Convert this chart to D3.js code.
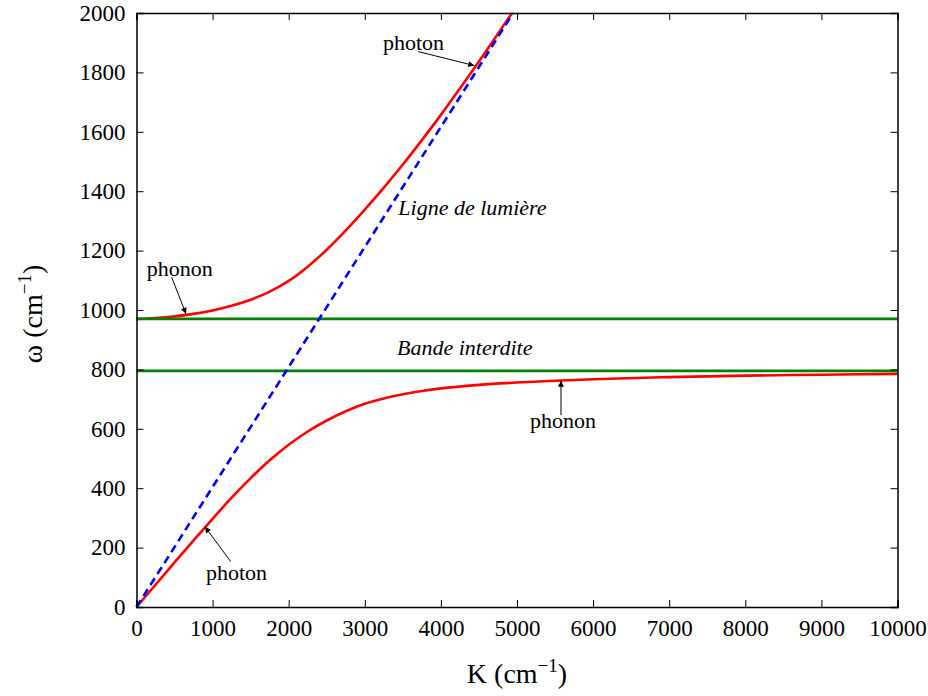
<!DOCTYPE html>
<html>
<head>
<meta charset="utf-8">
<script src="https://cdn.jsdelivr.net/npm/d3@7"></script>
<style>
body { margin: 0; background: white; }
svg text { font-family: "Liberation Serif", "DejaVu Serif", serif !important; }
</style>
</head>
<body>
<div id="vis"></div>
<script>
// Data (K in cm-1, omega in cm-1)
var upperK = [0, 250, 500, 750, 1000, 1250, 1500, 1750, 2000, 2250, 2500, 2750, 3000, 3250, 3500, 3750, 4000, 4250, 4500, 4750, 4935];
var upperW = [970, 973, 978.5, 987, 998.5, 1014, 1034.5, 1062, 1098, 1146, 1203, 1268, 1338, 1412, 1490, 1572, 1657, 1746, 1837, 1930, 2000];

var lowerK = [0, 250, 500, 750, 1000, 1250, 1500, 1750, 2000, 2250, 2500, 2750, 3000, 3250, 3500, 3750, 4000, 4500, 5000, 5500, 6000, 7000, 8000, 9000, 10000];
var lowerW = [0, 75, 150, 224, 297, 368, 434, 494, 546.5, 591, 628, 659, 684, 702, 716, 727, 736, 748, 756, 762, 767, 774, 779, 782, 785];

var lightK = [0, 4950];
var lightW = [0, 2000];

var omegaL = 970;   // top of the gap
var omegaT = 795;   // bottom of the gap

var xTicks = [0, 1000, 2000, 3000, 4000, 5000, 6000, 7000, 8000, 9000, 10000];
var yTicks = [0, 200, 400, 600, 800, 1000, 1200, 1400, 1600, 1800, 2000];

// labels: text anchor and arrow (from -> tip), in data units
var labels = [
    {text: "photon", italic: false, k: 3239, w: 1875, arrow: [[3703, 1870], [4439, 1823]]},
    {text: "phonon", italic: false, k: 134, w: 1114, arrow: [[463, 1110], [650, 987]]},
    {text: "Ligne de lumière", italic: true, k: 3440, w: 1320, arrow: null},
    {text: "Bande interdite", italic: true, k: 3423, w: 848, arrow: null},
    {text: "phonon", italic: false, k: 5171, w: 602, arrow: [[5578, 646], [5578, 762]]},
    {text: "photon", italic: false, k: 913, w: 91, arrow: [[1238, 153], [900, 270]]}
];

var totalWidth = 928, totalHeight = 696;
var margin = {top: 13, left: 136.5, right: 30.5, bottom: 89};
var width = totalWidth - margin.left - margin.right;
var height = totalHeight - margin.top - margin.bottom;

var x = d3.scaleLinear().domain([0, 10000]).range([0, width]);
var y = d3.scaleLinear().domain([0, 2000]).range([height, 0]);

var SVG = d3.select("#vis").append("svg")
    .attr("width", totalWidth)
    .attr("height", totalHeight);

var defs = SVG.append("defs");
defs.append("marker")
    .attr("id", "head")
    .attr("viewBox", "0 0 10 10")
    .attr("refX", 10)
    .attr("refY", 5)
    .attr("markerWidth", 9)
    .attr("markerHeight", 6)
    .attr("markerUnits", "userSpaceOnUse")
    .attr("orient", "auto")
    .append("path")
    .attr("d", "M0,0 L10,5 L0,10 Z")
    .attr("fill", "black");

var svg = SVG.append("g")
    .attr("transform", "translate(" + margin.left + "," + margin.top + ")");

var line = d3.line()
    .curve(d3.curveMonotoneX)
    .x(function(d) { return x(d[0]); })
    .y(function(d) { return y(d[1]); });

// red branches
svg.append("path")
    .datum(d3.zip(lowerK, lowerW))
    .attr("d", line)
    .attr("fill", "none")
    .attr("stroke", "#ff0000")
    .attr("stroke-width", 2.6);

svg.append("path")
    .datum(d3.zip(upperK, upperW))
    .attr("d", line)
    .attr("fill", "none")
    .attr("stroke", "#ff0000")
    .attr("stroke-width", 2.6);

// green gap lines
[omegaL, omegaT].forEach(function(w) {
    svg.append("line")
        .attr("x1", x(0))
        .attr("x2", x(10000))
        .attr("y1", y(w))
        .attr("y2", y(w))
        .attr("stroke", "#008000")
        .attr("stroke-width", 2.6);
});

// light line
svg.append("path")
    .datum(d3.zip(lightK, lightW))
    .attr("d", d3.line().x(function(d) { return x(d[0]); }).y(function(d) { return y(d[1]); }))
    .attr("fill", "none")
    .attr("stroke", "#0000ff")
    .attr("stroke-width", 2.6)
    .attr("stroke-dasharray", "8,5");

// axes, MATLAB style box with inward ticks
var tickLen = 7;
svg.append("g")
    .attr("transform", "translate(0," + height + ")")
    .call(d3.axisBottom(x).tickValues(xTicks).tickSize(-tickLen).tickPadding(tickLen + 6).tickFormat(d3.format("d")));
svg.append("g")
    .call(d3.axisTop(x).tickValues(xTicks).tickSize(-tickLen).tickFormat(""));
svg.append("g")
    .call(d3.axisLeft(y).tickValues(yTicks).tickSize(-tickLen).tickPadding(tickLen + 4).tickFormat(d3.format("d")));
svg.append("g")
    .attr("transform", "translate(" + width + ",0)")
    .call(d3.axisRight(y).tickValues(yTicks).tickSize(-tickLen).tickFormat(""));

svg.selectAll(".domain").attr("stroke", "black").attr("stroke-width", 1.5);
svg.selectAll(".tick line").attr("stroke", "black").attr("stroke-width", 1);
svg.selectAll(".tick text")
    .attr("fill", "black")
    .attr("font-size", 23);

// annotations
for (var i in labels) {
    var l = labels[i];
    svg.append("text")
        .attr("x", x(l.k))
        .attr("y", y(l.w))
        .attr("font-size", 22)
        .attr("font-style", l.italic ? "italic" : "normal")
        .text(l.text);
    if (l.arrow) {
        svg.append("line")
            .attr("x1", x(l.arrow[0][0]))
            .attr("y1", y(l.arrow[0][1]))
            .attr("x2", x(l.arrow[1][0]))
            .attr("y2", y(l.arrow[1][1]))
            .attr("stroke", "black")
            .attr("stroke-width", 1)
            .attr("marker-end", "url(#head)");
    }
}

// axis titles
var xt = SVG.append("text")
    .attr("x", margin.left + width / 2)
    .attr("y", 683)
    .attr("text-anchor", "middle")
    .attr("font-size", 28);
xt.append("tspan").text("K (cm");
xt.append("tspan").attr("dy", -11).attr("font-size", 19).text("\u22121");
xt.append("tspan").attr("dy", 11).text(")");

var yt = SVG.append("text")
    .attr("transform", "translate(42," + (margin.top + height / 2 + 4) + ") rotate(-90)")
    .attr("text-anchor", "middle")
    .attr("font-size", 28);
yt.append("tspan").text("\u03c9 (cm");
yt.append("tspan").attr("dy", -11).attr("font-size", 19).text("\u22121");
yt.append("tspan").attr("dy", 11).text(")");
</script>
</body>
</html>
